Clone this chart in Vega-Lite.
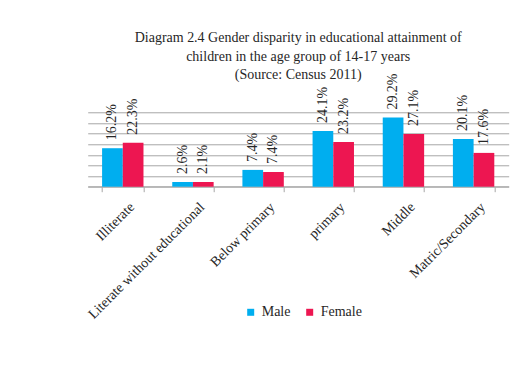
{
  "$schema": "https://vega.github.io/schema/vega-lite/v6.json",
  "autosize": "none",
  "width": 421,
  "height": 74.4,
  "padding": {"left": 87.7, "top": 112.3, "right": 10, "bottom": 185},
  "background": "white",
  "config": {
    "font": "Liberation Serif",
    "view": {"stroke": null}
  },
  "title": {
    "text": ["Diagram 2.4 Gender disparity in educational attainment of", "children in the age group of 14-17 years", "(Source: Census 2011)"],
    "font": "Liberation Serif",
    "fontSize": 14,
    "fontWeight": "normal",
    "color": "#262626",
    "lineHeight": 18.5,
    "offset": -9
  },
  "data": {
    "values": [
      {"category": "Illiterate", "gender": "Male", "value": 18.1, "label": "16.2%"},
      {"category": "Illiterate", "gender": "Female", "value": 20.7, "label": "22.3%"},
      {"category": "Literate without educational", "gender": "Male", "value": 2.2, "label": "2.6%"},
      {"category": "Literate without educational", "gender": "Female", "value": 2.2, "label": "2.1%"},
      {"category": "Below primary", "gender": "Male", "value": 7.9, "label": "7.4%"},
      {"category": "Below primary", "gender": "Female", "value": 6.9, "label": "7.4%"},
      {"category": "primary", "gender": "Male", "value": 26.2, "label": "24.1%"},
      {"category": "primary", "gender": "Female", "value": 21.0, "label": "23.2%"},
      {"category": "Middle", "gender": "Male", "value": 32.5, "label": "29.2%"},
      {"category": "Middle", "gender": "Female", "value": 24.8, "label": "27.1%"},
      {"category": "Matric/Secondary", "gender": "Male", "value": 22.4, "label": "20.1%"},
      {"category": "Matric/Secondary", "gender": "Female", "value": 15.9, "label": "17.6%"}
    ]
  },
  "encoding": {
    "x": {
      "field": "category",
      "type": "nominal",
      "sort": null,
      "scale": {"paddingInner": 0.41, "paddingOuter": 0.205},
      "axis": {
        "title": null,
        "labelAngle": -45,
        "labelFont": "Liberation Serif",
        "labelFontSize": 14,
        "labelColor": "#262626",
        "labelPadding": 8,
        "labelOffset": 4,
        "tickBand": "extent",
        "tickColor": "#a6a6a6",
        "tickSize": 5,
        "domainColor": "#a6a6a6",
        "labelLimit": 300
      }
    },
    "xOffset": {
      "field": "gender",
      "type": "nominal",
      "sort": ["Male", "Female"],
      "scale": {"paddingInner": 0, "paddingOuter": 0}
    },
    "y": {
      "field": "value",
      "type": "quantitative",
      "scale": {"domain": [0, 35], "nice": false},
      "axis": {
        "title": null,
        "values": [0, 5, 10, 15, 20, 25, 30, 35],
        "labels": false,
        "ticks": false,
        "domain": false,
        "grid": true,
        "gridColor": "#a6a6a6",
        "gridOpacity": 1
      }
    }
  },
  "layer": [
    {
      "mark": {"type": "bar"},
      "encoding": {
        "color": {
          "field": "gender",
          "type": "nominal",
          "sort": ["Male", "Female"],
          "scale": {"domain": ["Male", "Female"], "range": ["#00AEEF", "#ED1651"]},
          "legend": {
            "title": null,
            "orient": "none",
            "direction": "horizontal",
            "legendX": 156,
            "legendY": 193,
            "padding": 0,
            "symbolType": "square",
            "symbolSize": 49,
            "symbolStrokeWidth": 0,
            "labelFont": "Liberation Serif",
            "labelFontSize": 14,
            "labelColor": "#262626",
            "labelOffset": 4,
            "columnPadding": 12
          }
        }
      }
    },
    {
      "mark": {
        "type": "text",
        "angle": 270,
        "align": "left",
        "baseline": "middle",
        "dx": 8,
        "font": "Liberation Serif",
        "fontSize": 14,
        "color": "#262626"
      },
      "encoding": {
        "text": {"field": "label"}
      }
    }
  ]
}
